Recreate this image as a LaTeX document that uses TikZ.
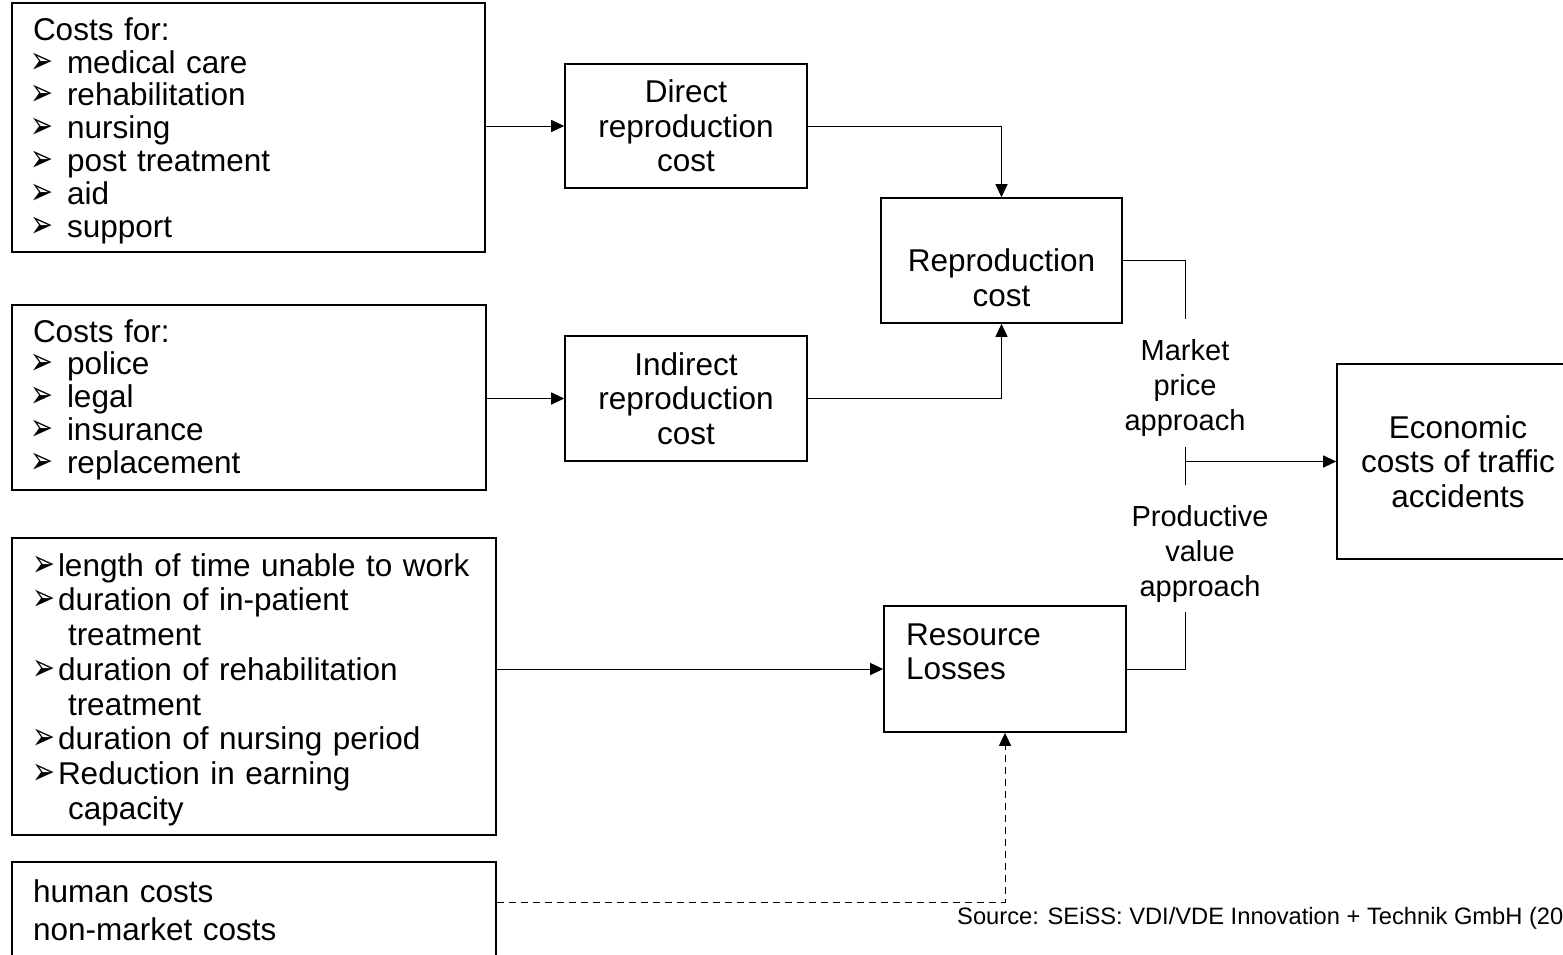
\documentclass[tikz,border=0pt]{standalone}
\usepackage{fontspec}
\setmainfont{Liberation Sans}
\newfontfamily\dingfont{DejaVu Sans}
\usetikzlibrary{arrows.meta}

% arrowhead bullet, set in a box of given width
\newcommand{\bul}[1]{\makebox[#1][l]{\hspace*{-3pt}\smash{\scalebox{0.72}[1.0]{\fontsize{38}{38}\dingfont\char"27A2}}}}

\tikzset{
  box/.style={draw, line width=1.6pt, inner ysep=0pt, align=center},
  listbox/.style={box, align=left, inner xsep=21pt},
  lbl/.style={inner sep=0pt, align=center, font=\fontsize{29}{35}\selectfont},
  wire/.style={line width=1pt},
  conn/.style={wire, -{Triangle[length=13pt,width=12pt]}},
}

\begin{document}
\begin{tikzpicture}[x=1pt,y=-1pt]
    \useasboundingbox (0,0) rectangle (1563,954);
    \clip (0,0) rectangle (1563,954);

    % Left column: lists of cost items
    \node[listbox, text width=431pt, minimum height=249pt,
      font=\fontsize{31.5}{32.8}\selectfont] (med) at (248.5,127.5) {\rule{0pt}{29pt}Costs for:\\
      \bul{34pt}medical care\\
      \bul{34pt}rehabilitation\\
      \bul{34pt}nursing\\
      \bul{34pt}post treatment\\
      \bul{34pt}aid\\
      \bul{34pt}support};
    \node[listbox, text width=432pt, minimum height=185pt,
      font=\fontsize{31.5}{32.8}\selectfont] (lgl) at (249,397.5) {\rule{0pt}{27pt}Costs for:\\
      \bul{34pt}police\\
      \bul{34pt}legal\\
      \bul{34pt}insurance\\
      \bul{34pt}replacement};
    \node[listbox, inner xsep=23pt, text width=438pt, minimum height=297pt,
      font=\fontsize{31.5}{34.7}\selectfont] (tim) at (254,686.5) {\rule{0pt}{29pt}\bul{23pt}length of time unable to work\\
      \bul{23pt}duration of in-patient\\
      \hspace*{33pt}treatment\\
      \bul{23pt}duration of rehabilitation\\
      \hspace*{33pt}treatment\\
      \bul{23pt}duration of nursing period\\
      \bul{23pt}Reduction in earning\\
      \hspace*{33pt}capacity};
    \node[listbox, text width=442pt, minimum height=96pt,
      font=\fontsize{31.5}{38}\selectfont] (hum) at (254,910) {human costs\\
      non-market costs};

    % Middle and right boxes
    \node[box, minimum width=242pt, minimum height=124pt,
      font=\fontsize{31.5}{34.5}\selectfont] (dir) at (686,126) {Direct\\reproduction\\cost};
    \node[box, minimum width=242pt, minimum height=125pt,
      font=\fontsize{31.5}{34.5}\selectfont] (ind) at (686,398.5) {Indirect\\reproduction\\cost};
    \node[box, minimum width=241pt, minimum height=125pt,
      font=\fontsize{31.5}{34.5}\selectfont] (rep) at (1001.5,260.5) {\rule{0pt}{23pt}\\Reproduction\\cost};
    \node[box, align=left, inner xsep=22pt, text width=198pt, minimum height=126pt,
      font=\fontsize{31.5}{34.5}\selectfont] (res) at (1005,669) {Resource\\Losses\\\mbox{}};
    \node[box, minimum width=242pt, minimum height=195pt,
      font=\fontsize{31.5}{34.5}\selectfont] (eco) at (1458,461.5) {Economic\\costs of traffic\\accidents};

    % Approach labels
    \node[lbl, minimum height=128pt] (mkt) at (1185,383) {\rule{0pt}{31pt}Market\\price\\approach};
    \node[lbl, minimum height=127pt] (prd) at (1200,548.5) {\rule{0pt}{31pt}Productive\\value\\approach};

    % Connectors
    \draw[conn] (med.east |- dir.west) -- (dir.west);
    \draw[conn] (lgl.east |- ind.west) -- (ind.west);
    \draw[conn] (dir.east) -| (rep.north);
    \draw[conn] (ind.east) -| (rep.south);
    \draw[wire] (rep.east) -| (mkt.north);
    \draw[wire] (mkt.south) -- (mkt.south |- prd.north);
    \draw[conn] (mkt.south |- eco.west) -- (eco.west);
    \draw[wire] (res.east) -| (mkt.south |- prd.south);
    \draw[conn] (tim.east |- res.west) -- (res.west);
    \draw[conn, dash pattern=on 7pt off 5pt] ([yshift=8pt]hum.east) -| (res.south);

    % Source line
    \node[anchor=west, inner sep=0pt, font=\fontsize{23.7}{26}\selectfont] (src) at (957,918)
      {Source: SEiSS: VDI/VDE Innovation + Technik GmbH (20};
\end{tikzpicture}
\end{document}
